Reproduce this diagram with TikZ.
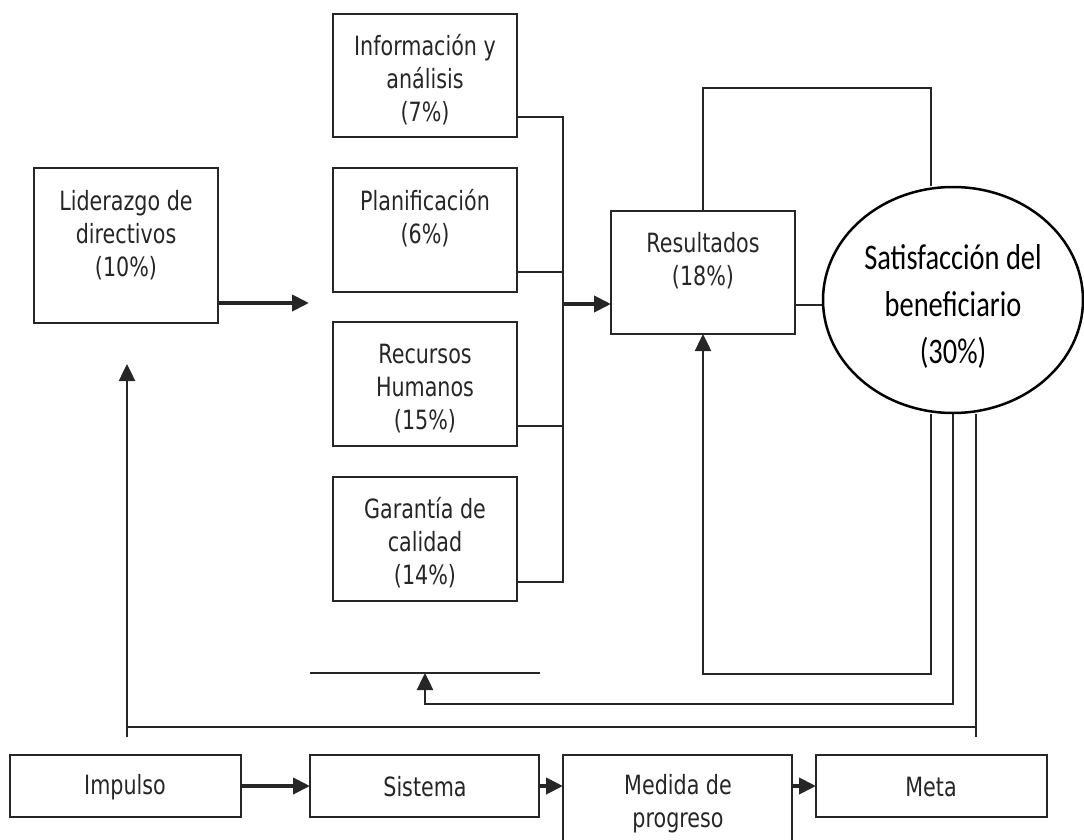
\documentclass[tikz,border=0pt]{standalone}
\usepackage{fontspec}
\newfontfamily\boxfont[FakeStretch=0.78]{DejaVu Sans}
\newfontfamily\ovalfont[FakeStretch=0.79]{Carlito}
\usetikzlibrary{arrows.meta,backgrounds,shapes.geometric}
\definecolor{ink}{HTML}{262626}
\begin{document}
\begin{tikzpicture}[x=1pt,y=-1pt,
  box/.style={draw=ink, line width=2.6pt, rectangle, inner sep=0pt, outer sep=0pt, anchor=north west},
  lbl/.style={font=\boxfont\fontsize{26.5}{33}\selectfont, align=center, text=ink, inner sep=0pt},
  conn/.style={draw=ink, line width=2.5pt},
  heavy/.style={draw=ink, line width=4pt},
  arr/.style={-{Triangle[length=17pt,width=16pt]}}]
\useasboundingbox (0,0) rectangle (1084,840);

% left column of factors
\node[box, minimum width=184pt, minimum height=155pt] (lid)  at (34,168)  {};
\node[box, minimum width=184pt, minimum height=123pt] (info) at (333,14)  {};
\node[box, minimum width=184pt, minimum height=124pt] (plan) at (333,168) {};
\node[box, minimum width=184pt, minimum height=124pt] (rec)  at (333,322) {};
\node[box, minimum width=184pt, minimum height=124pt] (gar)  at (333,477) {};
\node[box, minimum width=184pt, minimum height=123pt] (res)  at (611,211) {};

\node[lbl] (lidT)  at (126,235) {Liderazgo de\\directivos\\(10\%)};
\node[lbl] (infoT) at (425,80)  {Información y\\análisis\\(7\%)};
\node[lbl] (planT) at (425,218) {Planificación\\(6\%)};
\node[lbl] (recT)  at (425,389) {Recursos\\Humanos\\(15\%)};
\node[lbl] (garT)  at (425,543) {Garantía de\\calidad\\(14\%)};
\node[lbl] (resT)  at (703,261) {Resultados\\(18\%)};

% beneficiary satisfaction
\node[ellipse, draw=black, line width=2.5pt, fill=white, minimum width=260pt,
      minimum height=226pt, inner sep=0pt] (sat) at (953,300) {};
\node[font=\ovalfont\fontsize{36}{47}\selectfont, align=center, text=black, inner sep=0pt]
      (satT) at (953,306) {Satisfacción del\\beneficiario\\(30\%)};

% bottom chain
\node[box, minimum width=231pt, minimum height=62pt] (imp)  at (10,755)  {};
\node[box, minimum width=229pt, minimum height=62pt] (sis)  at (310,755) {};
\node[box, minimum width=229pt, minimum height=95pt] (med)  at (563,755) {};
\node[box, minimum width=231pt, minimum height=62pt] (meta) at (816,755) {};
\node[lbl] (impT)  at (125,787) {Impulso};
\node[lbl] (sisT)  at (425,787) {Sistema};
\node[lbl] (medT)  at (678,804) {Medida de\\progreso};
\node[lbl] (metaT) at (931,787) {Meta};

% helper points
\coordinate (busTop) at (563,117);
\coordinate (busBot) at (563,582);
\coordinate (busMid) at (563,304);
\coordinate (lidEnd) at (309,303);
\coordinate (topR)   at (931,88);
\coordinate (cA)     at (931,674);
\coordinate (cB)     at (953,704);
\coordinate (cC)     at (976,727);
\coordinate (cCend)  at (976,737);
\coordinate (cCL)    at (127,727);
\coordinate (lidFoot) at (127,737);
\coordinate (lidIn)  at (127,364);
\coordinate (barL)   at (310,673);
\coordinate (barR)   at (540,673);
\coordinate (barIn)  at (425,673);

% factor bus into results
\draw[conn] (info.east |- busTop) -- (busTop) -- (busBot) -- (gar.east |- busBot);
\draw[conn] (plan.east |- 0,272) -- (563,272);
\draw[conn] (rec.east |- 0,426) -- (563,426);
\draw[heavy,arr] (busMid) -- (res.west |- busMid);
\draw[heavy,arr] (lid.east |- lidEnd) -- (lidEnd);

% free bar
\draw[conn] (barL) -- (barR);

% feedback loops from satisfaction
\begin{scope}[on background layer]
\draw[conn] (res.north) |- (topR) -- (topR |- sat.north);
\draw[conn] (res.east |- 0,305) -- (sat.west |- 0,305);
\draw[conn,arr] (cA |- sat.south) -- (cA) -| (res.south);
\draw[conn,arr] (cB |- sat.south) -- (cB) -| (barIn);
\draw[conn] (cC |- sat.south) -- (cCend);
\end{scope}
\draw[conn] (cC) -- (cCL);
\draw[conn,arr] (lidFoot) -- (lidIn);

% bottom chain arrows
\draw[heavy,arr] (imp.east) -- (sis.west);
\draw[heavy,arr] (sis.east) -- (sis.east -| med.west);
\draw[heavy,arr] (med.east |- meta.west) -- (meta.west);
\end{tikzpicture}
\end{document}
